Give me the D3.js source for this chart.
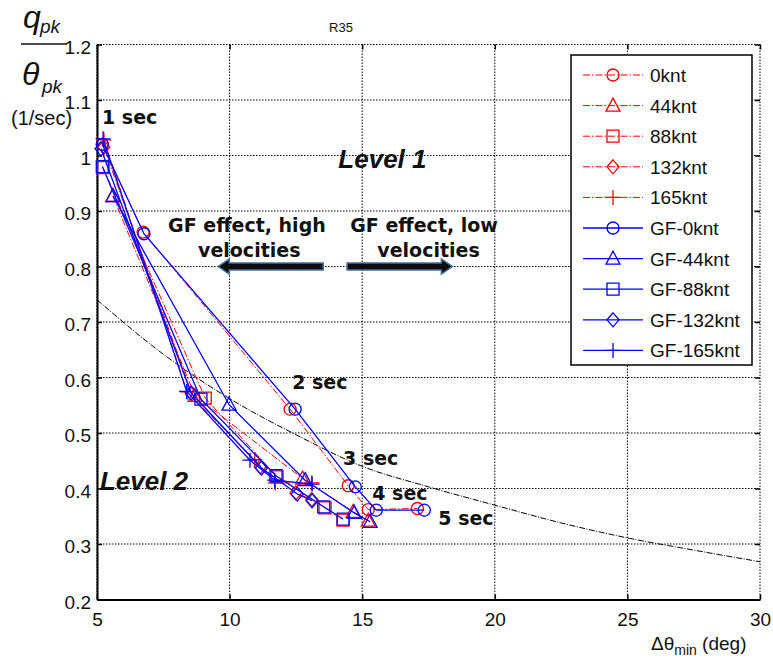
<!DOCTYPE html>
<html>
<head>
<meta charset="utf-8">
<script src="https://cdn.jsdelivr.net/npm/d3@7"></script>
<style>
  body { margin: 0; background: #fff; }
  text { font-family: "Liberation Sans", Arial, sans-serif; }
  .note { font-family: "DejaVu Sans", Verdana, sans-serif; font-weight: bold; font-size: 19px; }
  .level { font-family: "Liberation Sans", Arial, sans-serif; font-weight: bold; font-style: italic; font-size: 26px; }
</style>
</head>
<body>
<div id="chart"></div>
<script>
// DATA
var xTickValues = [5, 10, 15, 20, 25, 30];
var xTickLabels = ["5", "10", "15", "20", "25", "30"];
var yTickValues = [0.2, 0.3, 0.4, 0.5, 0.6, 0.7, 0.8, 0.9, 1.0, 1.1, 1.2];
var yTickLabels = ["0.2", "0.3", "0.4", "0.5", "0.6", "0.7", "0.8", "0.9", "1", "1.1", "1.2"];

var seriesNames = ["0knt", "44knt", "88knt", "132knt", "165knt",
                   "GF-0knt", "GF-44knt", "GF-88knt", "GF-132knt", "GF-165knt"];
var seriesMarkers = ["circle", "triangle", "square", "diamond", "plus",
                     "circle", "triangle", "square", "diamond", "plus"];

var x_0knt   = [5.2, 6.74, 12.28, 14.47, 15.23, 17.08];
var y_0knt   = [1.02, 0.862, 0.543, 0.405, 0.362, 0.364];
var x_44knt  = [5.6, 8.7, 12.75, 14.66, 15.23];
var y_44knt  = [0.927, 0.567, 0.418, 0.358, 0.342];
var x_88knt  = [5.23, 9.08, 11.79, 13.6, 14.28];
var y_88knt  = [0.978, 0.563, 0.421, 0.365, 0.343];
var x_132knt = [5.26, 8.58, 11.15, 12.5, 13.1];
var y_132knt = [1.015, 0.57, 0.439, 0.392, 0.38];
var x_165knt = [5.26, 8.4, 10.95, 11.72, 13.1];
var y_165knt = [1.028, 0.574, 0.452, 0.41, 0.41];

var x_gf0knt   = [5.2, 6.77, 12.47, 14.74, 15.53, 17.34];
var y_gf0knt   = [1.02, 0.859, 0.543, 0.403, 0.361, 0.361];
var x_gf44knt  = [5.6, 9.98, 12.85, 14.7, 15.3];
var y_gf44knt  = [0.927, 0.551, 0.415, 0.356, 0.34];
var x_gf88knt  = [5.2, 8.92, 11.75, 13.55, 14.28];
var y_gf88knt  = [0.98, 0.561, 0.423, 0.367, 0.345];
var x_gf132knt = [5.15, 8.55, 11.2, 12.55, 13.11];
var y_gf132knt = [1.012, 0.572, 0.437, 0.39, 0.378];
var x_gf165knt = [5.23, 8.38, 10.77, 11.7, 13.11];
var y_gf165knt = [1.03, 0.575, 0.451, 0.415, 0.408];

// boundary curve between level 1 and level 2
var boundaryX = [5, 7.5, 10, 12.5, 15, 17.5, 20, 22.5, 25, 27.5, 30];
var boundaryY = [0.74, 0.642, 0.562, 0.497, 0.44, 0.403, 0.37, 0.338, 0.311, 0.289, 0.268];

// time labels, in data units
var secLabels = ["1 sec", "2 sec", "3 sec", "4 sec", "5 sec"];
var secX = [5.19, 12.36, 14.28, 15.38, 17.87];
var secY = [1.057, 0.579, 0.442, 0.379, 0.334];

// SET UP DIMENSIONS
var W = 773, H = 659;
var plot = { left: 97, right: 760, top: 44.5, bottom: 599.5 };

var svg = d3.select('#chart').append('svg')
  .attr('width', W)
  .attr('height', H);

var xScale = d3.scaleLinear().domain([5, 30]).range([plot.left, plot.right]);
var yScale = d3.scaleLinear().domain([0.2, 1.2]).range([plot.bottom, plot.top]);

// GRID
var grid = svg.append('g').attr('class', 'grid');
grid.selectAll('.vgrid')
  .data(xTickValues)
  .enter().append('line')
    .attr('x1', function(d) { return xScale(d); })
    .attr('x2', function(d) { return xScale(d); })
    .attr('y1', plot.top).attr('y2', plot.bottom)
    .attr('stroke', '#000').attr('stroke-width', 1)
    .attr('stroke-dasharray', '1.5,1.5');
grid.selectAll('.hgrid')
  .data(yTickValues)
  .enter().append('line')
    .attr('y1', function(d) { return yScale(d); })
    .attr('y2', function(d) { return yScale(d); })
    .attr('x1', plot.left).attr('x2', plot.right)
    .attr('stroke', '#000').attr('stroke-width', 1)
    .attr('stroke-dasharray', '1.5,1.5');

// AXES
var xAxis = d3.axisBottom(xScale)
  .tickValues(xTickValues)
  .tickFormat(function(d, i) { return xTickLabels[i]; })
  .tickSizeInner(-5).tickSizeOuter(0).tickPadding(13);
var yAxis = d3.axisLeft(yScale)
  .tickValues(yTickValues)
  .tickFormat(function(d, i) { return yTickLabels[i]; })
  .tickSizeInner(-5).tickSizeOuter(0).tickPadding(6);
var xAxisTop = d3.axisTop(xScale).tickValues(xTickValues).tickFormat('')
  .tickSizeInner(-5).tickSizeOuter(0);
var yAxisRight = d3.axisRight(yScale).tickValues(yTickValues).tickFormat('')
  .tickSizeInner(-5).tickSizeOuter(0);

var gx = svg.append('g').attr('transform', 'translate(0,' + plot.bottom + ')').call(xAxis);
var gy = svg.append('g').attr('transform', 'translate(' + plot.left + ',0)').call(yAxis);
var gxt = svg.append('g').attr('transform', 'translate(0,' + plot.top + ')').call(xAxisTop);
var gyr = svg.append('g').attr('transform', 'translate(' + plot.right + ',0)').call(yAxisRight);

[gx, gy].forEach(function(g) {
  g.select('.domain').attr('stroke', '#000').attr('stroke-width', 2);
  g.selectAll('.tick line').attr('stroke', '#000').attr('stroke-width', 1.5);
  g.selectAll('.tick text').attr('fill', '#111').style('font-size', '19px')
    .style('font-family', '"Liberation Sans", Arial, sans-serif');
});
gy.selectAll('.tick text').attr('dy', '0.45em');
[gxt, gyr].forEach(function(g) {
  g.select('.domain').attr('stroke', 'none');
  g.selectAll('.tick line').attr('stroke', '#000').attr('stroke-width', 1.5);
});

// BOUNDARY CURVE
var boundary = boundaryX.map(function(x, i) { return [x, boundaryY[i]]; });
svg.append('path')
  .datum(boundary)
  .attr('fill', 'none')
  .attr('stroke', '#000')
  .attr('stroke-width', 1)
  .attr('stroke-dasharray', '6,1.5,1,1.5')
  .attr('d', d3.line()
    .curve(d3.curveMonotoneX)
    .x(function(d) { return xScale(d[0]); })
    .y(function(d) { return yScale(d[1]); }));

// SERIES
var xs = [x_0knt, x_44knt, x_88knt, x_132knt, x_165knt,
          x_gf0knt, x_gf44knt, x_gf88knt, x_gf132knt, x_gf165knt];
var ys = [y_0knt, y_44knt, y_88knt, y_132knt, y_165knt,
          y_gf0knt, y_gf44knt, y_gf88knt, y_gf132knt, y_gf165knt];
var series = seriesNames.map(function(name, i) {
  var gf = i >= 5;
  return {
    name: name,
    marker: seriesMarkers[i],
    color: gf ? '#0000ff' : '#ff0000',
    dash: gf ? null : '7,2,1.5,2',
    width: gf ? 1.3 : 1,
    points: xs[i].map(function(x, j) { return [x, ys[i][j]]; })
  };
});

function markerPath(type) {
  switch (type) {
    case 'circle': return 'M6,0A6,6 0 1,1 -6,0A6,6 0 1,1 6,0Z';
    case 'triangle': return 'M0,-7.5L7,5.5L-7,5.5Z';
    case 'square': return 'M-6,-6L6,-6L6,6L-6,6Z';
    case 'diamond': return 'M0,-7L6,0L0,7L-6,0Z';
    case 'plus': return 'M-7.5,0L7.5,0M0,-7.5L0,7.5';
  }
}

var line = d3.line()
  .x(function(d) { return xScale(d[0]); })
  .y(function(d) { return yScale(d[1]); });

var sg = svg.selectAll('.series')
  .data(series)
  .enter().append('g')
    .attr('class', 'series');

sg.append('path')
  .attr('fill', 'none')
  .attr('stroke', function(d) { return d.color; })
  .attr('stroke-width', function(d) { return d.width; })
  .attr('stroke-dasharray', function(d) { return d.dash; })
  .attr('d', function(d) { return line(d.points); });

sg.selectAll('.mk')
  .data(function(d) { return d.points.map(function(p) { return { p: p, s: d }; }); })
  .enter().append('path')
    .attr('class', 'mk')
    .attr('transform', function(d) { return 'translate(' + xScale(d.p[0]) + ',' + yScale(d.p[1]) + ')'; })
    .attr('d', function(d) { return markerPath(d.s.marker); })
    .attr('fill', 'none')
    .attr('stroke', function(d) { return d.s.color; })
    .attr('stroke-width', 1.3);

// TIME LABELS
svg.selectAll('.sec')
  .data(secLabels)
  .enter().append('text')
    .attr('class', 'note')
    .attr('x', function(d, i) { return xScale(secX[i]); })
    .attr('y', function(d, i) { return yScale(secY[i]); })
    .attr('fill', '#111')
    .text(function(d) { return d; });

// LEVEL LABELS
svg.append('text').attr('class', 'level').attr('fill', '#111')
  .attr('x', xScale(14.1)).attr('y', yScale(0.978)).text('Level 1');
svg.append('text').attr('class', 'level').attr('fill', '#111')
  .attr('x', xScale(5.11)).attr('y', yScale(0.397)).text('Level 2');

// GF EFFECT NOTES AND ARROWS
svg.append('text').attr('class', 'note').attr('fill', '#111')
  .attr('x', xScale(7.68)).attr('y', 232).text('GF effect, high');
svg.append('text').attr('class', 'note').attr('fill', '#111')
  .attr('x', xScale(8.81)).attr('y', 257).text('velocities');
svg.append('text').attr('class', 'note').attr('fill', '#111')
  .attr('x', xScale(14.55)).attr('y', 232).text('GF effect, low');
svg.append('text').attr('class', 'note').attr('fill', '#111')
  .attr('x', xScale(15.57)).attr('y', 257).text('velocities');

function arrow(xTail, xTip, yv) {
  var x0 = xScale(xTail), x1 = xScale(xTip), y = yScale(yv);
  var dir = x1 > x0 ? 1 : -1;
  var head = 11, sh = 3.5, hh = 7.5;
  var xb = x1 - dir * head;
  return 'M' + x0 + ',' + (y - sh) + 'L' + xb + ',' + (y - sh) + 'L' + xb + ',' + (y - hh) +
    'L' + x1 + ',' + y + 'L' + xb + ',' + (y + hh) + 'L' + xb + ',' + (y + sh) +
    'L' + x0 + ',' + (y + sh) + 'Z';
}
svg.append('path').attr('d', arrow(13.53, 9.57, 0.8))
  .attr('fill', '#0d0d0d').attr('stroke', '#41719c').attr('stroke-width', 1.5);
svg.append('path').attr('d', arrow(14.43, 18.4, 0.8))
  .attr('fill', '#0d0d0d').attr('stroke', '#41719c').attr('stroke-width', 1.5);

// LEGEND
var lg = svg.append('g').attr('transform', 'translate(571,55)');
lg.append('rect').attr('width', 181).attr('height', 310)
  .attr('fill', '#fff').attr('stroke', '#000').attr('stroke-width', 1.5);
var li = lg.selectAll('.li')
  .data(series)
  .enter().append('g')
    .attr('transform', function(d, i) { return 'translate(0,' + (20 + i * 30.6) + ')'; });
li.append('line')
  .attr('x1', 12).attr('x2', 72)
  .attr('stroke', function(d) { return d.color; })
  .attr('stroke-width', function(d) { return d.width; })
  .attr('stroke-dasharray', function(d) { return d.dash; });
li.append('path')
  .attr('transform', 'translate(42,0)')
  .attr('d', function(d) { return markerPath(d.marker); })
  .attr('fill', 'none')
  .attr('stroke', function(d) { return d.color; })
  .attr('stroke-width', 1.3);
li.append('text')
  .attr('x', 79).attr('y', 7)
  .style('font-size', '19px')
  .attr('fill', '#111')
  .text(function(d) { return d.name; });

// TITLE AND AXIS LABELS
svg.append('text').attr('x', 341).attr('y', 32).attr('text-anchor', 'middle')
  .style('font-size', '13px').attr('fill', '#111').text('R35');

var ylab = svg.append('g').style('font-family', '"Liberation Serif", "Times New Roman", serif')
  .style('font-style', 'italic').attr('fill', '#111');
ylab.append('text').attr('x', 23).attr('y', 28).style('font-size', '32px').text('q');
ylab.append('text').attr('x', 40).attr('y', 33).style('font-size', '19px').text('pk');
svg.append('line').attr('x1', 21).attr('x2', 67).attr('y1', 44).attr('y2', 44)
  .attr('stroke', '#111').attr('stroke-width', 1.5);
ylab.append('text').attr('x', 22).attr('y', 85).style('font-size', '32px').text('θ');
ylab.append('text').attr('x', 42).attr('y', 93).style('font-size', '19px').text('pk');
svg.append('text').attr('x', 11).attr('y', 125).style('font-size', '20px')
  .attr('fill', '#111').text('(1/sec)');

var xlab = svg.append('text').attr('x', 651).attr('y', 650)
  .style('font-size', '19px').attr('fill', '#111');
xlab.append('tspan').text('Δθ');
xlab.append('tspan').attr('dy', 5).style('font-size', '14px').text('min');
xlab.append('tspan').attr('dy', -5).text(' (deg)');
</script>
</body>
</html>
